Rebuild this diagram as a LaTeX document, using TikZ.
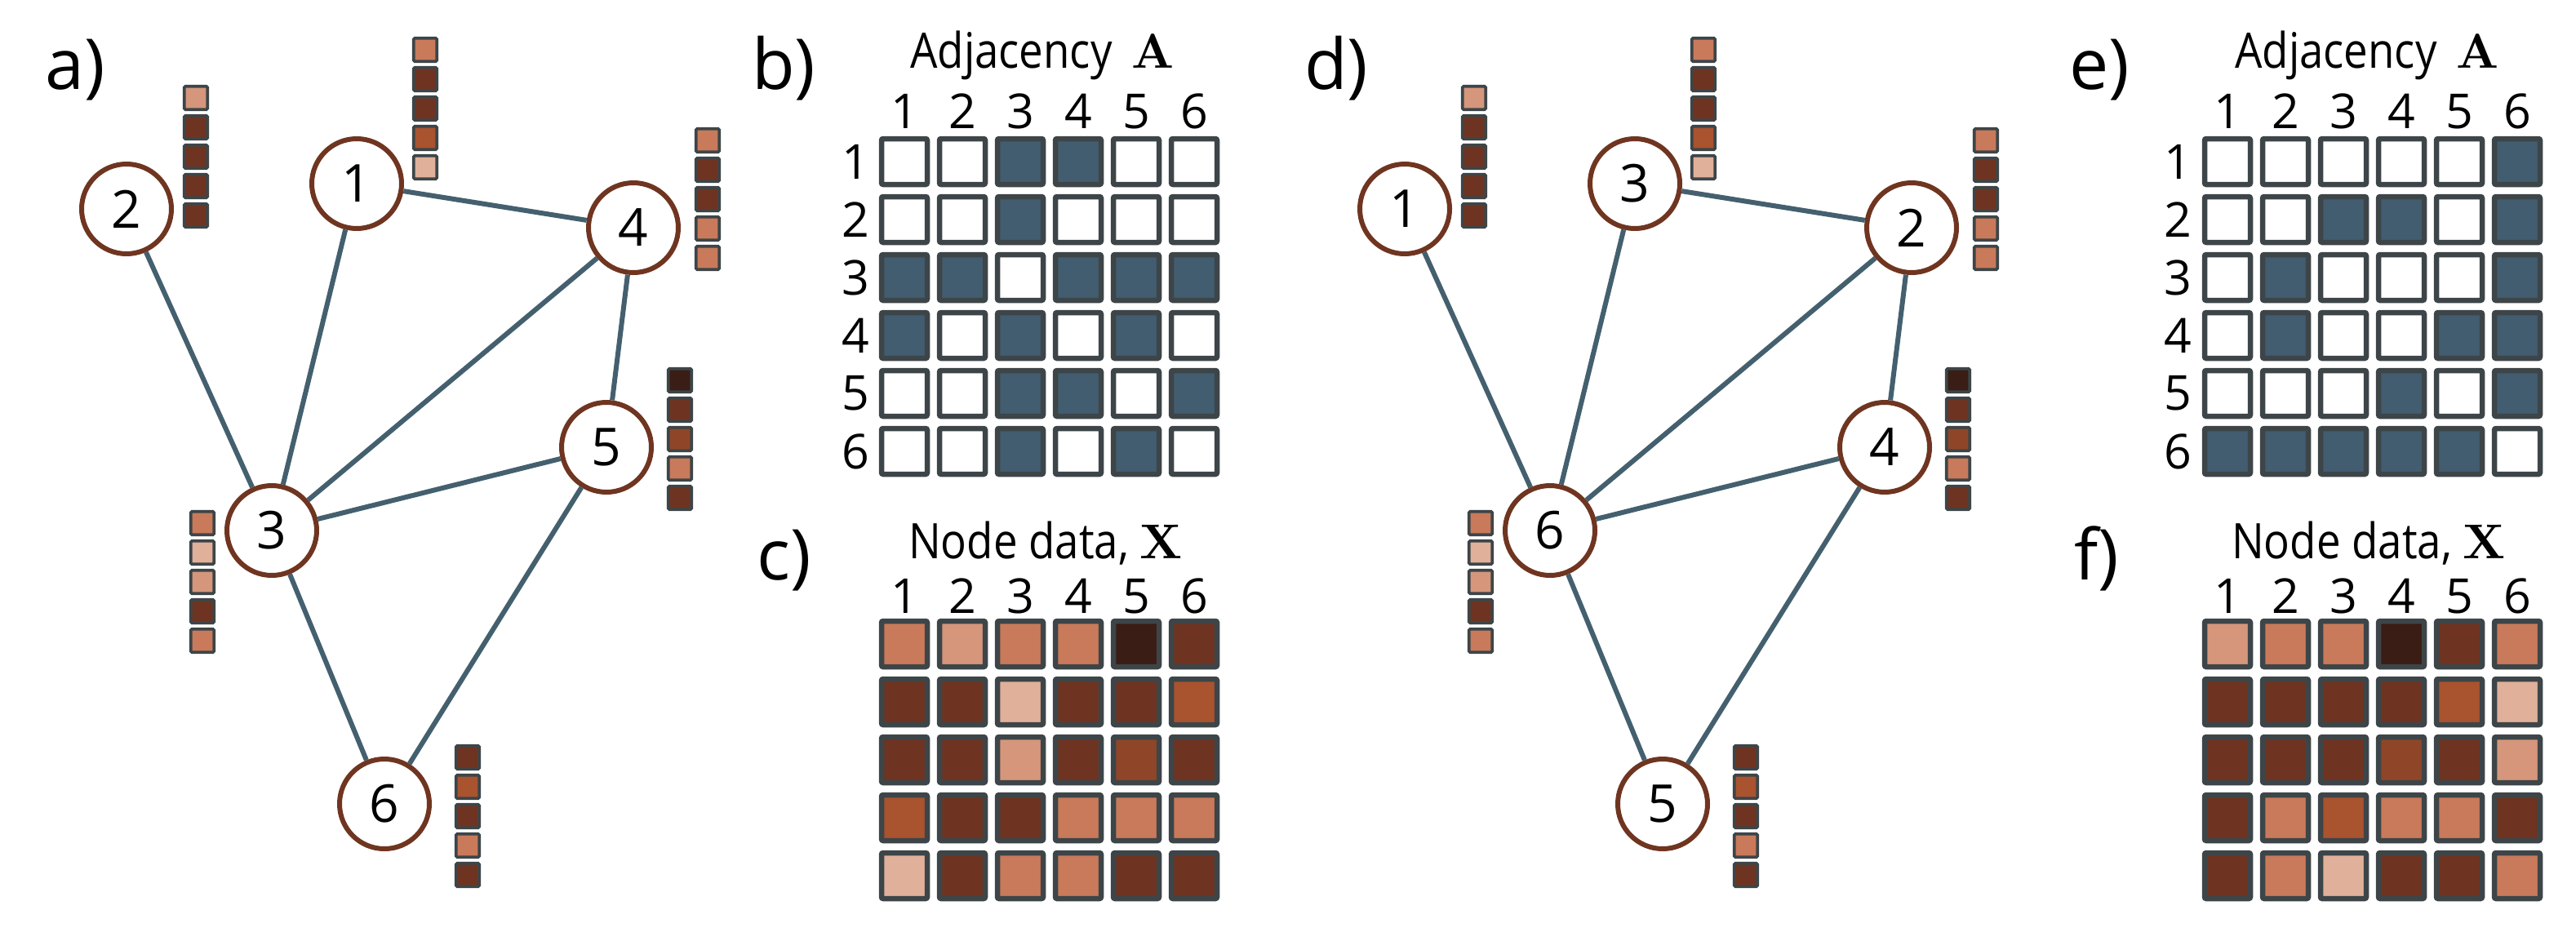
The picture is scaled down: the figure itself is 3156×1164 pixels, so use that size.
\documentclass[tikz,border=0pt]{standalone}
\usepackage[no-math]{fontspec}
\setmainfont{Open Sans}
\newfontfamily\headfont[FakeStretch=0.88]{Open Sans}
\newfontfamily\mbold[Extension=.otf]{lmroman10-bold}

\definecolor{linkblue}{HTML}{44606F}
\definecolor{nodebrown}{HTML}{6F3520}
\definecolor{cellgrey}{HTML}{3D4548}
\definecolor{adjblue}{HTML}{425D70}
% feature colours, light to dark
\definecolor{cP}{HTML}{E0B09A}
\definecolor{cL}{HTML}{D5967C}
\definecolor{cO}{HTML}{C97A5A}
\definecolor{cR}{HTML}{A9532F}
\definecolor{cS}{HTML}{8F4628}
\definecolor{cD}{HTML}{6E3421}
\definecolor{cV}{HTML}{3A1D15}

% column of feature squares: name, x, top y, colours
\newcommand{\featvec}[4]{%
  \foreach \fc [count=\k] in #4
    \node[feat, fill=\fc] (#1-\k) at ({#2}, {#3+16+36*(\k-1)}) {};}

\begin{document}
\begin{tikzpicture}[x=1pt, y=-1pt,
    gnode/.style={circle, draw=nodebrown, line width=6pt, fill=white,
      minimum size=110pt, inner sep=0pt, font=\fontsize{64}{70}\selectfont},
    link/.style={draw=linkblue, line width=6pt},
    feat/.style={draw=cellgrey, line width=3.8pt, rounded corners=1.5pt,
      minimum size=28.5pt, inner sep=0pt},
    cellbox/.style={draw=cellgrey, line width=6.5pt, rounded corners=2pt,
      minimum size=56pt, inner sep=0pt},
    adj0/.style={cellbox, fill=white},
    adj1/.style={cellbox, fill=adjblue},
    panellab/.style={anchor=base west, inner sep=0pt, font=\fontsize{86}{90}\selectfont},
    headtxt/.style={anchor=base, inner sep=0pt, font=\headfont\fontsize{60}{66}\selectfont},
    numlab/.style={inner sep=0pt, font=\fontsize{59}{64}\selectfont}]
  \useasboundingbox (0,0) rectangle (3156,1164);

  % a) graph
  \node[panellab] (laba) at (55,109) {a)};
  \node[gnode] (a1) at (437,225) {1};
  \node[gnode] (a2) at (155,256) {2};
  \node[gnode] (a3) at (333,650) {3};
  \node[gnode] (a4) at (776,279) {4};
  \node[gnode] (a5) at (743,548) {5};
  \node[gnode] (a6) at (471,985) {6};
  \draw[link] (a1) -- (a4) (a1) -- (a3) (a2) -- (a3) (a3) -- (a4)
    (a3) -- (a5) (a4) -- (a5) (a3) -- (a6) (a5) -- (a6);
  \featvec{fa1}{521}{45}{{cO,cD,cD,cR,cP}}
  \featvec{fa2}{240}{104}{{cL,cD,cD,cD,cD}}
  \featvec{fa3}{248}{625}{{cO,cP,cL,cD,cO}}
  \featvec{fa4}{867}{156}{{cO,cD,cD,cO,cO}}
  \featvec{fa5}{833}{450}{{cV,cD,cS,cO,cD}}
  \featvec{fa6}{573}{912}{{cD,cR,cD,cO,cD}}

  % b) adjacency
  \node[panellab] (labb) at (921,109) {b)};
  \node[headtxt] (headb) at (1277,84) {Adjacency\hspace{.4em}{\mbold A}};
  \foreach \rowv [count=\i] in {{0,0,1,1,0,0},{0,0,1,0,0,0},{1,1,0,1,1,1},
      {1,0,1,0,1,0},{0,0,1,1,0,1},{0,0,1,0,1,0}} {
    \node[numlab] (rb\i) at (1048, {198+71*(\i-1)}) {\i};
    \node[numlab, anchor=base] (cb\i) at ({1108+71*(\i-1)}, 157) {\i};
    \foreach \cv [count=\j] in \rowv
      \node[adj\cv] (b\i-\j) at ({1108+71*(\j-1)}, {198+71*(\i-1)}) {};
  }

  % c) node data
  \node[panellab] (labc) at (927,710) {c)};
  \node[headtxt] (headc) at (1281,684) {Node data, {\mbold X}};
  \foreach \col [count=\j] in {{cO,cD,cD,cR,cP},{cL,cD,cD,cD,cD},{cO,cP,cL,cD,cO},
      {cO,cD,cD,cO,cO},{cV,cD,cS,cO,cD},{cD,cR,cD,cO,cD}} {
    \node[numlab, anchor=base] (cc\j) at ({1108+71*(\j-1)}, 751) {\j};
    \foreach \fc [count=\i] in \col
      \node[cellbox, fill=\fc] (c\i-\j) at ({1108+71*(\j-1)}, {789+71*(\i-1)}) {};
  }

  % d) same graph, nodes renumbered
  \node[panellab] (labd) at (1598,109) {d)};
  \node[gnode] (d3) at (2003,225) {3};
  \node[gnode] (d1) at (1721,256) {1};
  \node[gnode] (d6) at (1899,650) {6};
  \node[gnode] (d2) at (2342,279) {2};
  \node[gnode] (d4) at (2309,548) {4};
  \node[gnode] (d5) at (2037,985) {5};
  \draw[link] (d3) -- (d2) (d3) -- (d6) (d1) -- (d6) (d6) -- (d2)
    (d6) -- (d4) (d2) -- (d4) (d6) -- (d5) (d4) -- (d5);
  \featvec{fd3}{2087}{45}{{cO,cD,cD,cR,cP}}
  \featvec{fd1}{1806}{104}{{cL,cD,cD,cD,cD}}
  \featvec{fd6}{1814}{625}{{cO,cP,cL,cD,cO}}
  \featvec{fd2}{2433}{156}{{cO,cD,cD,cO,cO}}
  \featvec{fd4}{2399}{450}{{cV,cD,cS,cO,cD}}
  \featvec{fd5}{2139}{912}{{cD,cR,cD,cO,cD}}

  % e) adjacency after renumbering
  \node[panellab] (labe) at (2535,109) {e)};
  \node[headtxt] (heade) at (2900,84) {Adjacency\hspace{.4em}{\mbold A}};
  \foreach \rowv [count=\i] in {{0,0,0,0,0,1},{0,0,1,1,0,1},{0,1,0,0,0,1},
      {0,1,0,0,1,1},{0,0,0,1,0,1},{1,1,1,1,1,0}} {
    \node[numlab] (re\i) at (2668, {198+71*(\i-1)}) {\i};
    \node[numlab, anchor=base] (ce\i) at ({2729+71*(\i-1)}, 157) {\i};
    \foreach \cv [count=\j] in \rowv
      \node[adj\cv] (e\i-\j) at ({2729+71*(\j-1)}, {198+71*(\i-1)}) {};
  }

  % f) node data after renumbering
  \node[panellab] (labf) at (2541,710) {f)};
  \node[headtxt] (headf) at (2902,684) {Node data, {\mbold X}};
  \foreach \col [count=\j] in {{cL,cD,cD,cD,cD},{cO,cD,cD,cO,cO},{cO,cD,cD,cR,cP},
      {cV,cD,cS,cO,cD},{cD,cR,cD,cO,cD},{cO,cP,cL,cD,cO}} {
    \node[numlab, anchor=base] (cf\j) at ({2729+71*(\j-1)}, 751) {\j};
    \foreach \fc [count=\i] in \col
      \node[cellbox, fill=\fc] (f\i-\j) at ({2729+71*(\j-1)}, {789+71*(\i-1)}) {};
  }
\end{tikzpicture}
\end{document}
